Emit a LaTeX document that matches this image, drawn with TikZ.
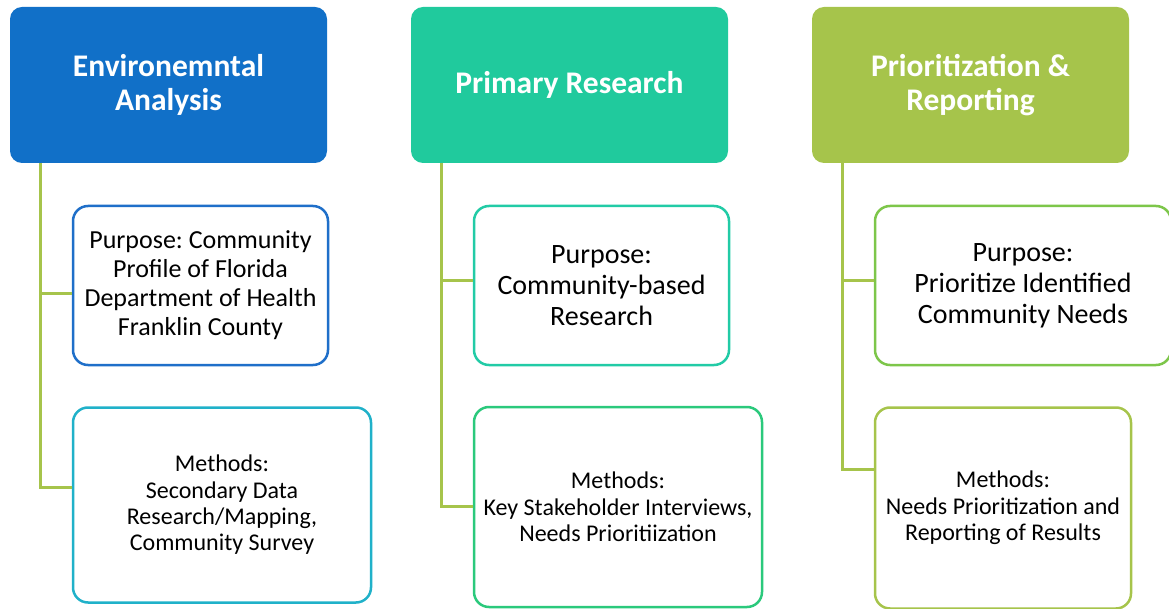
\documentclass[tikz,border=0pt]{standalone}
\usepackage{fontspec}
\setmainfont{Carlito}
\frenchspacing
\definecolor{hblue}{HTML}{1170C8}
\definecolor{hteal}{HTML}{20CA9D}
\definecolor{hgreen}{HTML}{A6C44B}
\definecolor{bblue}{HTML}{1F6FC9}
\definecolor{bcyan}{HTML}{20B1C9}
\definecolor{bteal}{HTML}{22CBA6}
\definecolor{bgreen}{HTML}{2BC97C}
\definecolor{blime}{HTML}{7DC64A}
\definecolor{bolive}{HTML}{A6C44B}
\definecolor{lineg}{HTML}{A6C44B}
\tikzset{
  hdr/.style={rounded corners=12pt, fill=#1, draw=none, text=white, align=center,
    font=\bfseries\fontsize{31.5}{34}\selectfont, minimum width=317pt, minimum height=156pt, inner sep=0pt},
  child/.style={rounded corners=15pt, draw=#1, line width=2.5pt, fill=white, align=center, inner sep=0pt},
  conn/.style={draw=lineg, line width=3pt},
  fpurp/.style={font=\fontsize{26}{29}\selectfont},
  fpurpb/.style={font=\fontsize{28}{31}\selectfont},
  fmeth/.style={font=\fontsize{24}{26.3}\selectfont},
}
\begin{document}
\begin{tikzpicture}[x=1pt,y=-1pt]
\useasboundingbox (0,0) rectangle (1169,609);
\begin{scope}
\clip (0,0) rectangle (1169,609);
% headers
\node[hdr=hblue] (h1) at (168.5,85) {Environemntal\\Analysis};
\node[hdr=hteal] (h2) at (569.5,85) {Primary Research};
\node[hdr=hgreen] (h3) at (970.5,85) {Prioritization \&\\Reporting};
% connector anchors
\coordinate (t1) at (40,163);
\coordinate (t2) at (441,163);
\coordinate (t3) at (842,163);
\coordinate (y1a) at (0,294);
\coordinate (y1b) at (0,487);
\coordinate (y2a) at (0,281);
\coordinate (y2b) at (0,506);
\coordinate (y3a) at (0,281);
\coordinate (y3b) at (0,469);
% children
\node[child=bblue, fpurp, minimum width=255pt, minimum height=159pt] (c1a) at (200.5,285.5)
  {Purpose: Community\\Profile of Florida\\Department of Health\\Franklin County};
\node[child=bcyan, fmeth, minimum width=298pt, minimum height=195pt] (c1b) at (222,505)
  {Methods:\\Secondary Data\\Research/Mapping,\\Community Survey};
\node[child=bteal, fpurpb, minimum width=255pt, minimum height=159pt] (c2a) at (601.5,285.5)
  {Purpose:\\Community-based\\Research};
\node[child=bgreen, fmeth, minimum width=288pt, minimum height=200pt] (c2b) at (618,507)
  {Methods:\\Key Stakeholder Interviews,\\Needs Prioritiization};
\node[child=blime, fpurpb, minimum width=296pt, minimum height=159pt] (c3a) at (1023,285.5)
  {Purpose:\\Prioritize Identified\\Community Needs};
\node[child=bolive, fmeth, minimum width=256pt, minimum height=201pt] (c3b) at (1003,508)
  {Methods:\\Needs Prioritization and\\Reporting of Results};
% connectors
\draw[conn] (t1) |- (c1b.west |- y1b);
\draw[conn] (t1 |- y1a) -- (c1a.west |- y1a);
\draw[conn] (t2) |- (c2b.west |- y2b);
\draw[conn] (t2 |- y2a) -- (c2a.west |- y2a);
\draw[conn] (t3) |- (c3b.west |- y3b);
\draw[conn] (t3 |- y3a) -- (c3a.west |- y3a);
\end{scope}
\end{tikzpicture}
\end{document}
